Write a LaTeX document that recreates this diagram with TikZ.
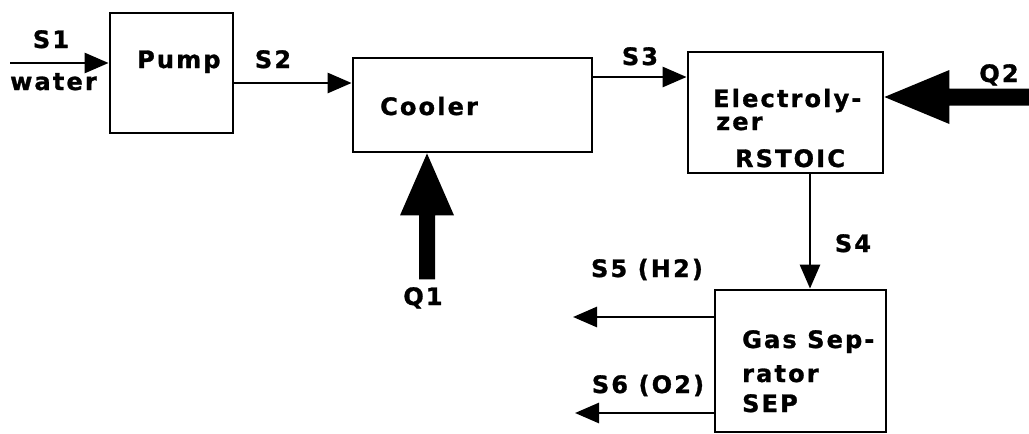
\documentclass[tikz,border=0pt]{standalone}
\usepackage{fontspec}
\setmainfont{DejaVu Sans}[LetterSpace=9,BoldFeatures={FakeBold=1.2}]
\usetikzlibrary{arrows.meta}
\begin{document}
\begin{tikzpicture}[x=1pt,y=-1pt,
  box/.style={draw,line width=2.8pt,inner sep=0pt},
  lbl/.style={inner sep=0pt,font=\fontsize{24}{28}\selectfont\bfseries},
  flow/.style={line width=2.8pt,-{Triangle[length=24pt,width=20pt]}},
  heat/.style={fill=black},
]
\useasboundingbox (0,0) rectangle (1029,434);
% boxes
\node[box,minimum width=123pt,minimum height=120pt] (pump) at (171.5,73) {};
\node[box,minimum width=239pt,minimum height=94pt] (cooler) at (472.5,105) {};
\node[box,minimum width=195pt,minimum height=121pt] (elec) at (785.5,112.5) {};
\node[box,minimum width=171pt,minimum height=142pt] (sep) at (800.5,361) {};
% texts
\node[lbl,anchor=base] (tS1) at (51,48) {S1};
\node[lbl,anchor=base west] (tWater) at (10,90) {water};
\node[lbl,anchor=base west] (tPump) at (137,68) {Pump};
\node[lbl,anchor=base] (tS2) at (273,68) {S2};
\node[lbl,anchor=base west] (tCooler) at (380,115) {Cooler};
\node[lbl,anchor=base] (tS3) at (640,65) {S3};
\node[lbl,anchor=base west] (tE1) at (713,107) {Electroly-};
\node[lbl,anchor=base west] (tE2) at (716,130) {zer};
\node[lbl,anchor=base] (tE3) at (790,167) {RSTOIC};
\node[lbl,anchor=base] (tQ2) at (999,82) {Q2};
\node[lbl,anchor=base] (tQ1) at (423,305) {Q1};
\node[lbl,anchor=base] (tS4) at (853,252) {S4};
\node[lbl,anchor=base] (tS5) at (647,277) {S5 (H2)};
\node[lbl,anchor=base] (tS6) at (648,393) {S6 (O2)};
\node[lbl,anchor=base west] (tG1) at (742,348) {Gas Sep-};
\node[lbl,anchor=base west] (tG2) at (742,382) {rator};
\node[lbl,anchor=base west] (tG3) at (742,412) {SEP};
% free ends
\coordinate (s1in) at (10,63);
\coordinate (q1in) at (427,278);
\coordinate (q2in) at (1029,97);
\coordinate (s5out) at (573,317);
\coordinate (s6out) at (575,413);
% connectors
\draw[flow] (s1in) -- (s1in -| pump.west);
\draw[flow] (pump.east |- 0,83) -- (cooler.west |- 0,83);
\draw[flow] (cooler.east |- 0,77) -- (elec.west |- 0,77);
\draw[flow] (elec.south -| 810,0) -- (sep.north -| 810,0);
\draw[flow] (sep.west |- s5out) -- (s5out);
\draw[flow] (sep.west |- s6out) -- (s6out);
% heat arrows (filled block arrows)
\fill[heat] (q1in |- cooler.south) -- ++(27,62) -- ++(-19,0) -- ++(0,64) -- ++(-16,0) -- ++(0,-64) -- ++(-19,0) -- cycle;
\fill[heat] (q2in -| elec.east) -- ++(65,-27) -- ++(0,18.5) -- ++(81,0) -- ++(0,17) -- ++(-81,0) -- ++(0,18.5) -- cycle;
\end{tikzpicture}
\end{document}
